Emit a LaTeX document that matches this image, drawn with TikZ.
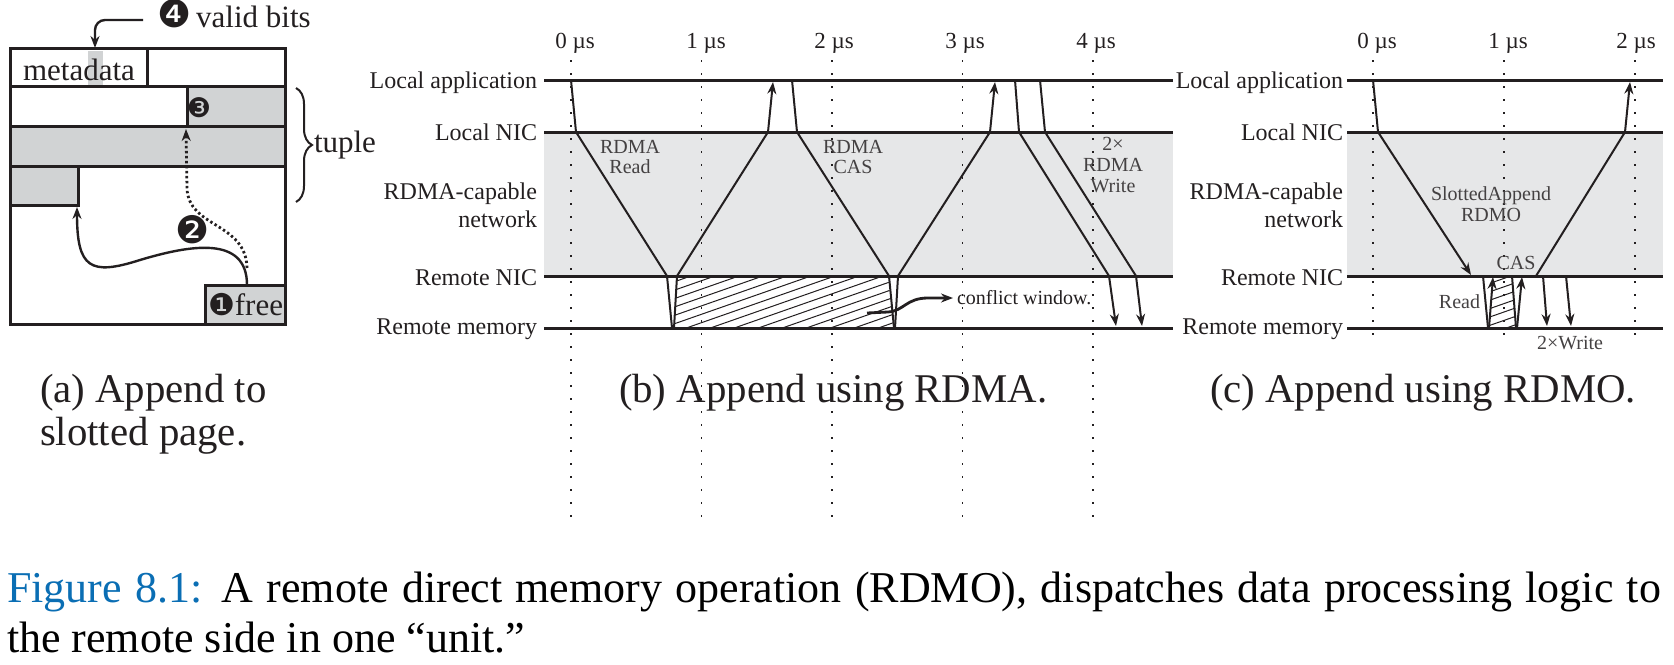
\documentclass[tikz,border=0pt]{standalone}
\usepackage{fontspec}
\setmainfont{Liberation Serif}
\newfontfamily\dingfont{DejaVu Sans}
\usetikzlibrary{arrows.meta,decorations.pathreplacing,calc}
\definecolor{ink}{RGB}{35,31,32}
\definecolor{band}{RGB}{230,231,232}
\definecolor{fillg}{RGB}{209,211,212}
\definecolor{capblue}{RGB}{10,110,180}
\begin{document}
\begin{tikzpicture}[x=0.5pt,y=-0.5pt,
  every node/.style={inner sep=0pt, outer sep=0pt, text=ink},
  tl/.style={line width=1.5pt, draw=ink},
  msg/.style={line width=1pt, draw=ink},
  arr/.style={-{Stealth[length=6pt,width=4.5pt]}},
  tick/.style={draw=ink, line width=0.9pt, dash pattern=on 0.8pt off 5.7pt},
  axlab/.style={font=\fontsize{12}{14}\selectfont, anchor=base east},
  tlab/.style={font=\fontsize{11.5}{13}\selectfont, anchor=base},
  small/.style={font=\fontsize{10}{10.3}\selectfont, align=center, text=ink!85},
  pa/.style={font=\fontsize{15.5}{17}\selectfont},
  ding/.style={font=\dingfont\fontsize{19}{19}\selectfont},
  sub/.style={font=\fontsize{20.4}{21.5}\selectfont, anchor=base west},
  hatch/.style={line width=0.5pt, draw=ink},
  boxl/.style={line width=1.5pt, draw=ink},
]
\useasboundingbox (0,0) rectangle (1674,664);

% ---------------- panel (a) ----------------
\fill[fillg] (88,51) rectangle (103,86);
\fill[fillg] (187,86) rectangle (285,126);
\fill[fillg] (10,126) rectangle (285,166);
\fill[fillg] (10,166) rectangle (78,205);
\fill[fillg] (205,285) rectangle (285,324);
\draw[boxl] (10,48) rectangle (285,324);
\draw[boxl] (147,48) -- (147,86);
\draw[boxl] (10,86) -- (285,86);
\draw[boxl] (187,86) -- (187,126);
\draw[boxl] (10,126) -- (285,126);
\draw[boxl] (10,166) -- (285,166);
\draw[boxl] (78,166) -- (78,205) -- (10,205);
\draw[boxl] (205,324) -- (205,285) -- (285,285);

\node[pa, anchor=base] (meta) at (79,80) {metadata};
\node[pa, anchor=base west] (vbits) at (157,27) {{\dingfont\fontsize{19}{19}\selectfont ❹}\,valid bits};
\coordinate (vbstart) at (143,20);
\coordinate (vbtip) at (95,48);
\draw[line width=1.2pt, draw=ink, arr, rounded corners=5pt] (vbstart) -- (95,20) -- (vbtip);
\node[ding, font=\dingfont\fontsize{13.5}{13.5}\selectfont] (n3) at (199,108) {❸};
\node[pa, anchor=base west] (free) at (208,315) {{\dingfont\fontsize{15}{15}\selectfont ❶}free};
\node[ding] (n2) at (193,230) {❷};

\coordinate (fstart) at (247,285);
\coordinate (gtip) at (77,207);
\coordinate (dstart) at (247,268);
\coordinate (dtip) at (186,129);
\draw[line width=1.2pt, draw=ink, arr] (fstart) .. controls (247,235) and (190,245) .. (140,260)
   .. controls (90,276) and (77,268) .. (gtip);
\draw[line width=1.4pt, draw=ink, dash pattern=on 1.2pt off 1.3pt, arr]
   (dstart) .. controls (246,222) and (188,228) .. (187,188) -- (dtip);

\draw[line width=1pt, draw=ink, decorate, decoration={brace, amplitude=8pt}] (296,88) -- (296,202);
\node[pa, anchor=base west] (tuple) at (314,152) {tuple};

\node[sub] (capa1) at (40,402) {(a) Append to};
\node[sub] (capa2) at (40,445) {slotted page.};

% ---------------- panel (b) ----------------
\fill[band] (544,132) rectangle (1173,276);
\foreach \x in {571,701.5,832,962.5,1093} \draw[tick] (\x,60) -- (\x,520);
\node[tlab] (b0) at (575,48) {0 µs};
\node[tlab] (b1) at (706,48) {1 µs};
\node[tlab] (b2) at (834,48) {2 µs};
\node[tlab] (b3) at (965,48) {3 µs};
\node[tlab] (b4) at (1096,48) {4 µs};

\begin{scope}
\clip (677,276) -- (888,276) -- (894,328) -- (674,328) -- cycle;
\foreach \c in {460,484,...,900} \draw[hatch] (\c,340) -- ++(400,-140);
\end{scope}

\draw[tl] (544,80) -- (1173,80);
\draw[tl] (544,132) -- (1173,132);
\draw[tl] (544,276) -- (1173,276);
\draw[tl] (544,328) -- (1173,328);

\node[axlab] (bla) at (537,88) {Local application};
\node[axlab] (bln) at (537,140) {Local NIC};
\node[axlab] (bnet1) at (537,199) {RDMA-capable};
\node[axlab] (bnet2) at (537,227) {network};
\node[axlab] (brn) at (537,285) {Remote NIC};
\node[axlab] (brm) at (537,334) {Remote memory};

\draw[msg] (571,80) -- (576,132) -- (667,276) -- (672,328);
\draw[msg, arr] (674,328) -- (677,276) -- (768,132) -- (773,82);
\draw[msg] (792,80) -- (797,132) -- (889,276) -- (894,328);
\draw[msg, arr] (895,328) -- (898,276) -- (990,132) -- (995,82);
\draw[msg, arr] (1015,80) -- (1019,132) -- (1109,276) -- (1116,326);
\draw[msg, arr] (1040,80) -- (1045,132) -- (1136,276) -- (1142,326);

\node[small] (lread) at (630,157) {RDMA\\Read};
\node[small] (lcas) at (853,157) {RDMA\\CAS};
\node[small] (lwrite) at (1113,165) {2×\\RDMA\\Write};
\node[small, anchor=west, text=ink] (cw) at (957,298) {conflict window.};
\coordinate (cwstart) at (867,313);
\coordinate (cwtip) at (953,298);
\draw[line width=1.4pt, draw=ink, arr] (cwstart) -- (888,312) .. controls (904,311) and (906,298) .. (928,298) -- (cwtip);

\node[sub] (capb) at (619,402) {(b) Append using RDMA.};

% ---------------- panel (c) ----------------
\fill[band] (1347,132) rectangle (1663,276);
\foreach \x in {1373,1504,1635} \draw[tick] (\x,60) -- (\x,345);
\node[tlab] (c0) at (1377,48) {0 µs};
\node[tlab] (c1) at (1508,48) {1 µs};
\node[tlab] (c2) at (1636,48) {2 µs};

\begin{scope}
\clip (1493,276) -- (1512,276) -- (1516,328) -- (1489,328) -- cycle;
\foreach \c in {1280,1304,...,1540} \draw[hatch] (\c,340) -- ++(400,-140);
\end{scope}

\draw[tl] (1347,80) -- (1663,80);
\draw[tl] (1347,132) -- (1663,132);
\draw[tl] (1347,276) -- (1663,276);
\draw[tl] (1347,328) -- (1663,328);

\node[axlab] (cla) at (1343,88) {Local application};
\node[axlab] (cln) at (1343,140) {Local NIC};
\node[axlab] (cnet1) at (1343,199) {RDMA-capable};
\node[axlab] (cnet2) at (1343,227) {network};
\node[axlab] (crn) at (1343,285) {Remote NIC};
\node[axlab] (crm) at (1343,334) {Remote memory};

\draw[msg, arr] (1373,80) -- (1378,132) -- (1471,275);
\draw[msg, arr] (1536,276) -- (1625,132) -- (1630,82);
\draw[msg] (1483,276) -- (1488,328);
\draw[msg, arr] (1489,328) -- (1493,277);
\draw[msg] (1512,276) -- (1516,328);
\draw[msg, arr] (1517,328) -- (1522,277);
\draw[msg, arr] (1543,276) -- (1547,326);
\draw[msg, arr] (1566,276) -- (1571,326);

\node[small] (lsa) at (1491,204) {SlottedAppend\\RDMO};
\node[small] (lccas) at (1516,263) {CAS};
\node[small, anchor=east] (lcread) at (1480,302) {Read};
\node[small] (lcw) at (1570,343) {2×Write};

\node[sub] (capc) at (1210,402) {(c) Append using RDMO.};

% ---------------- figure caption ----------------
\node[anchor=base west, font=\fontsize{22}{25}\selectfont, text=black] (fig1) at (7,602)
  {\makebox[827pt][s]{\textcolor{capblue}{Figure 8.1:} A remote direct memory operation (RDMO), dispatches data processing logic to}};
\node[anchor=base west, font=\fontsize{22}{25}\selectfont, text=black] (fig2) at (7,652)
  {the remote side in one “unit.”};
\end{tikzpicture}
\end{document}
